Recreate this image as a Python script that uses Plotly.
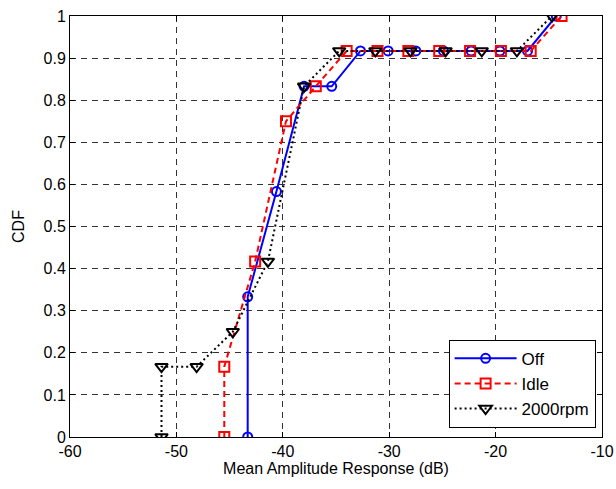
import plotly.graph_objects as go

# Mean amplitude response (dB) and cumulative fraction for each engine state
off_x = [-43.3, -43.3, -40.6, -38.0, -35.4, -32.7, -30.1, -27.5, -24.9, -22.3, -19.6, -17.0, -14.3]
off_y = [0.0, 0.333, 0.583, 0.833, 0.833, 0.917, 0.917, 0.917, 0.917, 0.917, 0.917, 0.917, 1.0]

idle_x = [-45.5, -45.5, -42.6, -39.7, -36.9, -34.0, -31.1, -28.2, -25.3, -22.4, -19.5, -16.7, -13.8]
idle_y = [0.0, 0.167, 0.417, 0.75, 0.833, 0.917, 0.917, 0.917, 0.917, 0.917, 0.917, 0.917, 1.0]

rpm_x = [-51.4, -51.4, -48.1, -44.7, -41.4, -38.0, -34.7, -31.3, -28.0, -24.7, -21.3, -18.0, -14.7]
rpm_y = [0.0, 0.167, 0.167, 0.25, 0.417, 0.833, 0.917, 0.917, 0.917, 0.917, 0.917, 0.917, 1.0]

x_ticks = [-60, -50, -40, -30, -20, -10]
y_ticks = [0, 0.1, 0.2, 0.3, 0.4, 0.5, 0.6, 0.7, 0.8, 0.9, 1]
y_tick_text = ["0", "0.1", "0.2", "0.3", "0.4", "0.5", "0.6", "0.7", "0.8", "0.9", "1"]

FONT = "Liberation Sans, Arial, Helvetica, sans-serif"

fig = go.Figure()
fig.add_trace(go.Scatter(
    x=off_x, y=off_y, name="Off", mode="lines+markers",
    line=dict(color="#0000ff", width=2, dash="solid"),
    marker=dict(symbol="circle-open", size=9, color="#0000ff", line=dict(width=2)),
))
fig.add_trace(go.Scatter(
    x=idle_x, y=idle_y, name="Idle", mode="lines+markers",
    line=dict(color="#ff0000", width=2, dash="6px,4px"),
    marker=dict(symbol="square-open", size=10, color="#ff0000", line=dict(width=2)),
))
fig.add_trace(go.Scatter(
    x=rpm_x, y=rpm_y, name="2000rpm", mode="lines+markers",
    line=dict(color="#000000", width=2, dash="2px,3px"),
    marker=dict(symbol="triangle-down-open", size=11, color="#000000", line=dict(width=2)),
))

axis_common = dict(
    showline=True, linecolor="black", linewidth=1, mirror="ticks",
    ticks="inside", ticklen=5, tickcolor="black",
    showgrid=True, gridcolor="#333333", griddash="6px,5px", gridwidth=1,
    zeroline=False, automargin=False,
    tickfont=dict(family=FONT, size=16, color="black"),
)

fig.update_xaxes(
    range=[-60, -10], tickvals=x_ticks, ticktext=[str(v) for v in x_ticks],
    title=dict(text="Mean Amplitude Response (dB)", font=dict(family=FONT, size=16, color="black"), standoff=3),
    **axis_common,
)
fig.update_yaxes(
    range=[0, 1], tickvals=y_ticks, ticktext=y_tick_text,
    title=dict(text="CDF", font=dict(family=FONT, size=16, color="black"), standoff=14),
    **axis_common,
)

fig.update_layout(
    width=616, height=489,
    margin=dict(l=70, r=14, t=16, b=52),
    paper_bgcolor="white", plot_bgcolor="white",
    font=dict(family=FONT, size=16, color="black"),
    showlegend=True,
    legend=dict(
        x=0.988, y=0.022, xanchor="right", yanchor="bottom",
        bgcolor="white", bordercolor="black", borderwidth=1,
        font=dict(family=FONT, size=17, color="black"),
        itemwidth=62, tracegroupgap=0,
    ),
)

fig.write_html("out.html")
